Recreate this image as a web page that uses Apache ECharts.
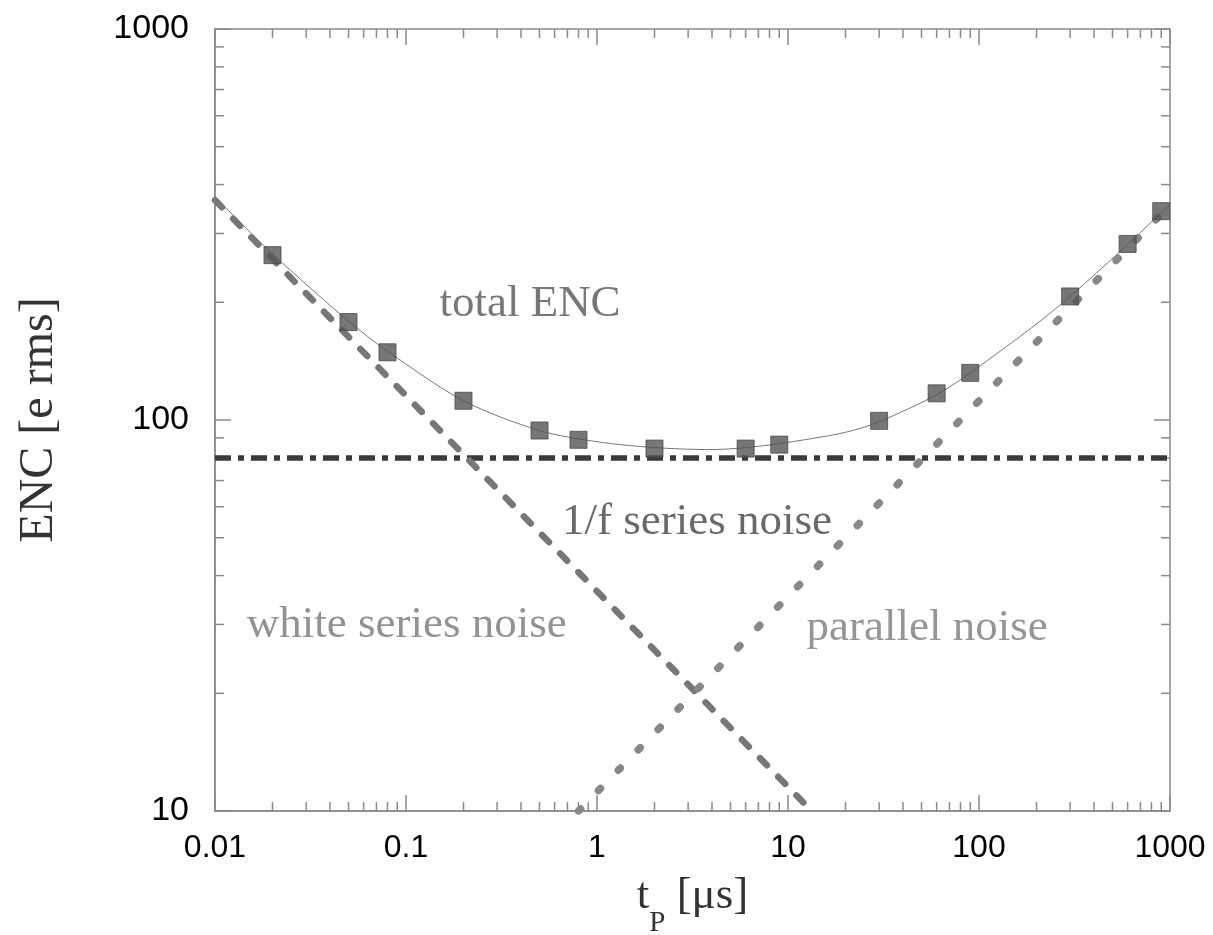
<!DOCTYPE html>
<html>
<head>
<meta charset="utf-8">
<script src="https://cdn.jsdelivr.net/npm/echarts@6.0.0/dist/echarts.min.js"></script>
<style>
  html, body { margin: 0; padding: 0; background: #fff; }
  #main { width: 1213px; height: 935px; }
</style>
</head>
<body>
<div id="main"></div>
<script>
// measured points (squares)
const measX = [0.02, 0.05, 0.08, 0.2, 0.5, 0.8, 2, 6, 9, 30, 60, 90, 300, 600, 900]
const measY = [264, 178, 149, 112, 94, 89, 84.5, 84.5, 86.5, 99.5, 117, 132, 207, 282, 342]

// total ENC curve
const totalX = [0.01, 0.02, 0.05, 0.08, 0.2, 0.5, 1, 2, 4, 6, 9, 20, 30, 60, 90, 200, 300, 600, 1000]
const totalY = [372, 266, 179, 150, 112, 94, 88, 85, 84, 85, 87, 93, 99, 116, 132, 176, 207, 281, 356]

// noise contributions (straight lines in log-log)
const whiteX = [0.01, 13.3]
const whiteY = [365, 10]
const parallelX = [0.8, 1000]
const parallelY = [10, 354]
const flickerX = [0.01, 1000]
const flickerY = [80, 80]

// text labels inside the plot
const annoText = ['total ENC', '1/f series noise', 'white series noise', 'parallel noise']
const annoX = [0.446, 3.34, 0.101, 53.5]
const annoY = [198, 54.8, 29.9, 29.4]
const annoColor = ['#555', '#444', '#777', '#7a7a7a']

// axis ticks
const xTickLabels = ['0.01', '0.1', '1', '10', '100', '1000']
const xMajor = [0.01, 0.1, 1, 10, 100, 1000]
const yTickLabels = ['10', '100', '1000']
const yMajor = [10, 100, 1000]
const minorMult = [2, 3, 4, 5, 6, 7, 8, 9]

const xMin = 0.01, xMax = 1000, yMin = 10, yMax = 1000
const frameColor = '#8a8a8a'

function zip(xs, ys) {
    return xs.map((x, i) => [x, ys[i]])
}

function withMinors(majors) {
    let out = majors.map(v => [v, 1])
    majors.slice(0, -1).forEach(d => {
        minorMult.forEach(m => out.push([d * m, 0]))
    })
    return out
}

const xTicks = withMinors(xMajor).map(t => [t[0], yMin, t[1]])
const yTicks = withMinors(yMajor).map(t => [xMin, t[0], t[1]])

function tickLine(x1, y1, x2, y2) {
    return {
        type: 'line',
        shape: { x1: x1, y1: y1, x2: x2, y2: y2 },
        style: { stroke: frameColor, lineWidth: 1.5 }
    }
}

function renderXTick(params, api) {
    const v = api.value(0)
    const len = api.value(2) ? 16 : 9
    const b = api.coord([v, yMin])
    const t = api.coord([v, yMax])
    return {
        type: 'group',
        children: [tickLine(b[0], b[1], b[0], b[1] - len), tickLine(t[0], t[1], t[0], t[1] + len)]
    }
}

function renderYTick(params, api) {
    const v = api.value(1)
    const len = api.value(2) ? 16 : 9
    const l = api.coord([xMin, v])
    const r = api.coord([xMax, v])
    return {
        type: 'group',
        children: [tickLine(l[0], l[1], l[0] + len, l[1]), tickLine(r[0], r[1], r[0] - len, r[1])]
    }
}

function tickLabel(labels) {
    return function (v) {
        const i = labels.findIndex(s => Math.abs(Math.log10(+s) - Math.log10(v)) < 1e-6)
        return i >= 0 ? labels[i] : ''
    }
}

var myChart = echarts.init(document.getElementById('main'), null, { renderer: 'canvas' })

option = {
    animation: false,
    backgroundColor: '#fff',
    grid: {
        left: 215,
        right: 43,
        top: 29,
        bottom: 124,
        containLabel: false,
        outerBoundsMode: 'none',
        show: true,
        borderColor: frameColor,
        borderWidth: 1.5
    },
    xAxis: {
        type: 'log',
        logBase: 10,
        min: xMin,
        max: xMax,
        name: '{a|t}{sub|P}{a| [μs]}',
        nameLocation: 'middle',
        nameGap: 63,
        nameTextStyle: {
            rich: {
                a: { fontFamily: 'Liberation Serif', fontSize: 45, color: '#333', lineHeight: 44, verticalAlign: 'top' },
                sub: { fontFamily: 'Liberation Serif', fontSize: 29, color: '#333', lineHeight: 64, verticalAlign: 'bottom' }
            }
        },
        axisLine: { show: true, lineStyle: { color: frameColor, width: 1.5 } },
        axisTick: { show: false },
        splitLine: { show: false },
        axisLabel: {
            fontFamily: 'Liberation Sans',
            fontSize: 32,
            color: '#000',
            margin: 21,
            formatter: tickLabel(xTickLabels)
        }
    },
    yAxis: {
        type: 'log',
        logBase: 10,
        min: yMin,
        max: yMax,
        name: 'ENC [e rms]',
        nameLocation: 'middle',
        nameRotate: 90,
        nameGap: 152,
        nameTextStyle: { fontFamily: 'Liberation Serif', fontSize: 48, color: '#333' },
        axisLine: { show: true, lineStyle: { color: frameColor, width: 1.5 } },
        axisTick: { show: false },
        splitLine: { show: false },
        axisLabel: {
            fontFamily: 'Liberation Sans',
            fontSize: 34,
            color: '#000',
            margin: 26,
            formatter: tickLabel(yTickLabels)
        }
    },
    series: [
        {
            name: 'xticks',
            type: 'custom',
            silent: true,
            renderItem: renderXTick,
            encode: { x: 0, y: 1 },
            data: xTicks,
            z: 1
        },
        {
            name: 'yticks',
            type: 'custom',
            silent: true,
            renderItem: renderYTick,
            encode: { x: 0, y: 1 },
            data: yTicks,
            z: 1
        },
        {
            name: '1/f series noise',
            type: 'line',
            showSymbol: false,
            data: zip(flickerX, flickerY),
            lineStyle: { color: '#3a3a3a', width: 5.5, type: [16, 7, 6, 7] },
            z: 2
        },
        {
            name: 'white series noise',
            type: 'line',
            showSymbol: false,
            data: zip(whiteX, whiteY),
            lineStyle: { color: '#777', width: 6.5, type: [10, 16], cap: 'round' },
            z: 2
        },
        {
            name: 'parallel noise',
            type: 'line',
            showSymbol: false,
            data: zip(parallelX, parallelY),
            lineStyle: { color: '#888', width: 7.5, type: [3, 25.5], cap: 'round' },
            z: 2
        },
        {
            name: 'total ENC',
            type: 'line',
            smooth: 0.3,
            showSymbol: false,
            data: zip(totalX, totalY),
            lineStyle: { color: '#777', width: 1 },
            z: 3
        },
        {
            name: 'measured',
            type: 'scatter',
            symbol: 'rect',
            symbolSize: 17,
            data: zip(measX, measY),
            itemStyle: { color: '#555', borderColor: '#484848', borderWidth: 1 },
            z: 4
        },
        {
            name: 'labels',
            type: 'scatter',
            symbolSize: 0,
            silent: true,
            data: annoText.map((s, i) => ({
                value: [annoX[i], annoY[i]],
                label: {
                    show: true,
                    position: 'inside',
                    formatter: s,
                    fontFamily: 'Liberation Serif',
                    fontSize: 45,
                    color: annoColor[i]
                }
            })),
            z: 5
        }
    ]
};

myChart.setOption(option);
</script>
</body>
</html>
